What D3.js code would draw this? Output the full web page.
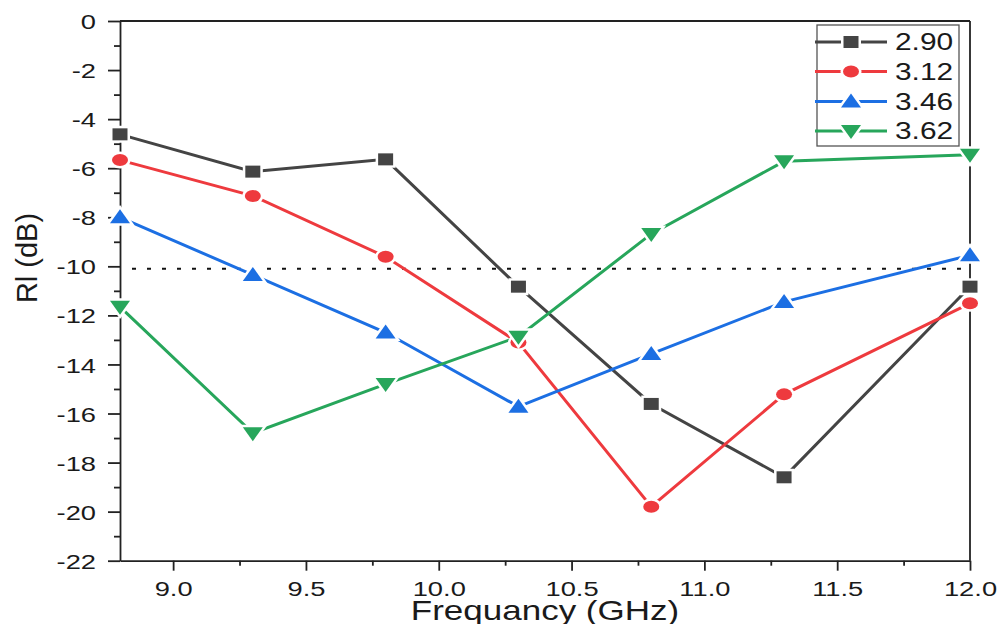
<!DOCTYPE html>
<html><head><meta charset="utf-8">
<script src="https://cdn.jsdelivr.net/npm/d3@7"></script>
<style>body{margin:0;background:#fff;}svg{display:block;font-family:"Liberation Sans",Arial,sans-serif;}</style>
</head><body>
<svg id="c" width="1000" height="624"></svg>
<script>
const freq = [8.8, 9.3, 9.8, 10.3, 10.8, 11.3, 12.0];
const s290 = [-4.62, -6.14, -5.64, -10.83, -15.61, -18.6, -10.83];
const s312 = [-5.67, -7.13, -9.61, -13.11, -19.8, -15.22, -11.51];
const s346 = [-8.0, -10.35, -12.7, -15.72, -13.57, -11.45, -9.55];
const s362 = [-11.65, -16.8, -14.8, -12.87, -8.68, -5.72, -5.45];
const seriesNames = ["2.90", "3.12", "3.46", "3.62"];
const refLevel = -10.1;
const xTicks = [9.0, 9.5, 10.0, 10.5, 11.0, 11.5, 12.0];
const yTicks = [0, -2, -4, -6, -8, -10, -12, -14, -16, -18, -20, -22];

const series = [
  {name: seriesNames[0], values: s290, color: "#444444", marker: "square"},
  {name: seriesNames[1], values: s312, color: "#ee3a3e", marker: "circle"},
  {name: seriesNames[2], values: s346, color: "#1c6fe3", marker: "triUp"},
  {name: seriesNames[3], values: s362, color: "#27a65b", marker: "triDown"}
];

const SX = 1.3; // horizontal stretch of the original image
const svg = d3.select("#c");
const L = 120, R = 970, T = 21, B = 560.7;
const x = d3.scaleLinear().domain([8.8, 12.0]).range([L, R]);
const y = d3.scaleLinear().domain([0, -22]).range([T, B]);

function markerPath(type) {
  switch (type) {
    case "square": return "M-7.5,-6H7.5V6H-7.5Z";
    case "circle": return "M-8,0A8,6 0 1,0 8,0A8,6 0 1,0 -8,0Z";
    case "triUp": return "M0,-8L10,6H-10Z";
    case "triDown": return "M0,8L10,-6H-10Z";
  }
}
function stretch(sel, sx) {
  sel.each(function() {
    const t = d3.select(this);
    const xv = +(t.attr("x") || 0);
    t.attr("x", xv / sx).attr("transform", `scale(${sx},1)`);
  });
}

// frame
const axisColor = "#222";
svg.append("line").attr("x1", L).attr("x2", R).attr("y1", T).attr("y2", T).attr("stroke", axisColor).attr("stroke-width", 1.8);
svg.append("line").attr("x1", R).attr("x2", R).attr("y1", T).attr("y2", B).attr("stroke", axisColor).attr("stroke-width", 1.8);

// axes
const yMinor = d3.range(-21, 0, 2);
const xMinor = [9.25, 9.75, 10.25, 10.75, 11.25, 11.75];

const gy = svg.append("g").attr("transform", `translate(${L},0)`)
  .call(d3.axisLeft(y).tickValues(yTicks).tickSize(12).tickSizeOuter(0).tickPadding(12).tickFormat(d => String(d)));
svg.append("g").attr("transform", `translate(${L},0)`)
  .call(d3.axisLeft(y).tickValues(yMinor).tickSize(6).tickSizeOuter(0).tickFormat(""))
  .select(".domain").remove();
const gx = svg.append("g").attr("transform", `translate(0,${B})`)
  .call(d3.axisBottom(x).tickValues(xTicks).tickSize(10).tickSizeOuter(0).tickPadding(10).tickFormat(d => d.toFixed(1)));
svg.append("g").attr("transform", `translate(0,${B})`)
  .call(d3.axisBottom(x).tickValues(xMinor).tickSize(5).tickSizeOuter(0).tickFormat(""))
  .select(".domain").remove();

svg.selectAll(".domain").attr("stroke", axisColor).attr("stroke-width", 1.8);
svg.selectAll(".tick line").attr("stroke", axisColor).attr("stroke-width", 1.8);
svg.selectAll(".tick text").attr("font-size", 21).attr("fill", "#1a1a1a")
  .attr("font-family", "'Liberation Sans', Arial, sans-serif");
gy.selectAll(".tick text").attr("dy", "0.36em");
stretch(gy.selectAll(".tick text"), SX);
stretch(gx.selectAll(".tick text"), SX);

// reference dotted line
svg.append("line").attr("x1", L + 12).attr("x2", R).attr("y1", y(refLevel)).attr("y2", y(refLevel))
  .attr("stroke", "#111").attr("stroke-width", 2).attr("stroke-dasharray", "4,11");

// series
const line = d3.line().x((d, i) => x(freq[i])).y(d => y(d));
series.forEach(s => {
  svg.append("path").datum(s.values).attr("d", line).attr("fill", "none")
    .attr("stroke", s.color).attr("stroke-width", 3);
});
series.forEach(s => {
  const g = svg.append("g");
  g.selectAll("path.halo").data(s.values).join("path").attr("class", "halo")
    .attr("d", markerPath(s.marker))
    .attr("transform", (d, i) => `translate(${x(freq[i])},${y(d)})`)
    .attr("fill", "#fff").attr("stroke", "#fff").attr("stroke-width", 5);
  g.selectAll("path.mk").data(s.values).join("path").attr("class", "mk")
    .attr("d", markerPath(s.marker))
    .attr("transform", (d, i) => `translate(${x(freq[i])},${y(d)})`)
    .attr("fill", s.color);
});

// legend
const lg = svg.append("g");
lg.append("rect").attr("x", 817).attr("y", 25).attr("width", 142).attr("height", 121)
  .attr("fill", "#fff").attr("stroke", "#555").attr("stroke-width", 1.3);
const legY = [42, 71.5, 101.5, 131];
series.forEach((s, i) => {
  const yy = legY[i];
  lg.append("line").attr("x1", 815).attr("x2", 887).attr("y1", yy).attr("y2", yy)
    .attr("stroke", s.color).attr("stroke-width", 3);
  lg.append("path").attr("d", markerPath(s.marker)).attr("transform", `translate(851,${yy})`)
    .attr("fill", "#fff").attr("stroke", "#fff").attr("stroke-width", 5);
  lg.append("path").attr("d", markerPath(s.marker)).attr("transform", `translate(851,${yy})`)
    .attr("fill", s.color);
  const t = lg.append("text").attr("x", 895).attr("y", yy).attr("dy", "0.36em").attr("font-size", 23)
    .attr("fill", "#1a1a1a").text(s.name);
  stretch(t, SX);
});

// axis titles
const xt = svg.append("text").attr("x", 545).attr("y", 620).attr("text-anchor", "middle")
  .attr("font-size", 28).attr("fill", "#1a1a1a").text("Frequancy (GHz)");
stretch(xt, 1.25);
svg.append("text").attr("transform", "translate(37,258) rotate(-90)").attr("text-anchor", "middle")
  .attr("font-size", 29).attr("fill", "#1a1a1a").text("Rl (dB)");
</script>
</body></html>
